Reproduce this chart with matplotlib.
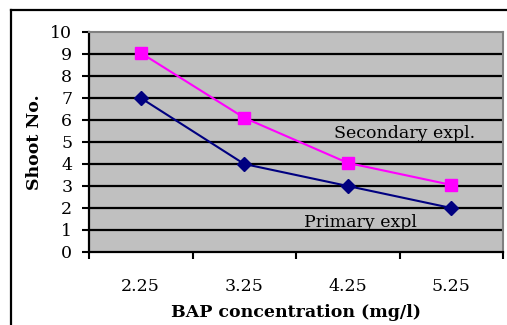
import matplotlib.pyplot as plt
from matplotlib.lines import Line2D
import numpy as np

conc = ['2.25', '3.25', '4.25', '5.25']
primary = [7, 4, 3, 2]
secondary = [9.05, 6.1, 4.05, 3.05]
yticks = list(range(0, 11))

plt.rcParams['font.family'] = ['DejaVu Serif']

fig = plt.figure(figsize=(5.07, 3.25), dpi=100)
W, H = 507, 325
ax = fig.add_axes([89 / W, 1 - 252 / H, (503 - 89) / W, (252 - 32) / H])
ax.set_facecolor('#C0C0C0')

x = np.arange(len(conc))
ax.plot(x, secondary, color='#FF00FF', lw=1.5, marker='s', ms=8,
        markerfacecolor='#FF00FF', markeredgecolor='#FF00FF', zorder=4)
ax.plot(x, primary, color='#000080', lw=1.5, marker='D', ms=7,
        markerfacecolor='#000080', markeredgecolor='#000080', zorder=4)

ax.set_xlim(-0.5, len(conc) - 0.5)
ax.set_ylim(0, 10)

# horizontal grid in black
for v in yticks[1:-1]:
    ax.axhline(v, color='black', lw=1.6, zorder=2)

ax.set_yticks(yticks)
ax.tick_params(axis='y', direction='out', length=5, width=1.5, labelsize=12.5, pad=7)

# category labels centred, ticks on the boundaries
ax.set_xticks(x)
ax.set_xticklabels(conc)
ax.tick_params(axis='x', which='major', length=0, labelsize=12.5, pad=19)
ax.set_xticks(np.arange(-0.5, len(conc)), minor=True)
ax.tick_params(axis='x', which='minor', direction='out', length=5, width=1.5)

for s in ('left', 'bottom'):
    ax.spines[s].set_color('black')
    ax.spines[s].set_linewidth(1.6)
for s in ('top', 'right'):
    ax.spines[s].set_color('#808080')
    ax.spines[s].set_linewidth(1.5)

ax.set_ylabel('Shoot No.', fontsize=12.5, fontweight='bold', labelpad=5)
ax.set_xlabel('BAP concentration (mg/l)', fontsize=12.5, fontweight='bold', labelpad=6)

ax.text(2.55, 5.4, 'Secondary expl.', fontsize=12.5, ha='center', va='center', zorder=5)
ax.text(2.12, 1.32, 'Primary expl', fontsize=12.5, ha='center', va='center', zorder=5)

# outer chart border
fig.add_artist(Line2D([10.5 / W, 10.5 / W], [0, 1 - 10 / H], color='black', lw=1.6))
fig.add_artist(Line2D([10.5 / W, 1], [1 - 10 / H, 1 - 10 / H], color='black', lw=1.6))

fig.savefig('out.png', dpi=100)
